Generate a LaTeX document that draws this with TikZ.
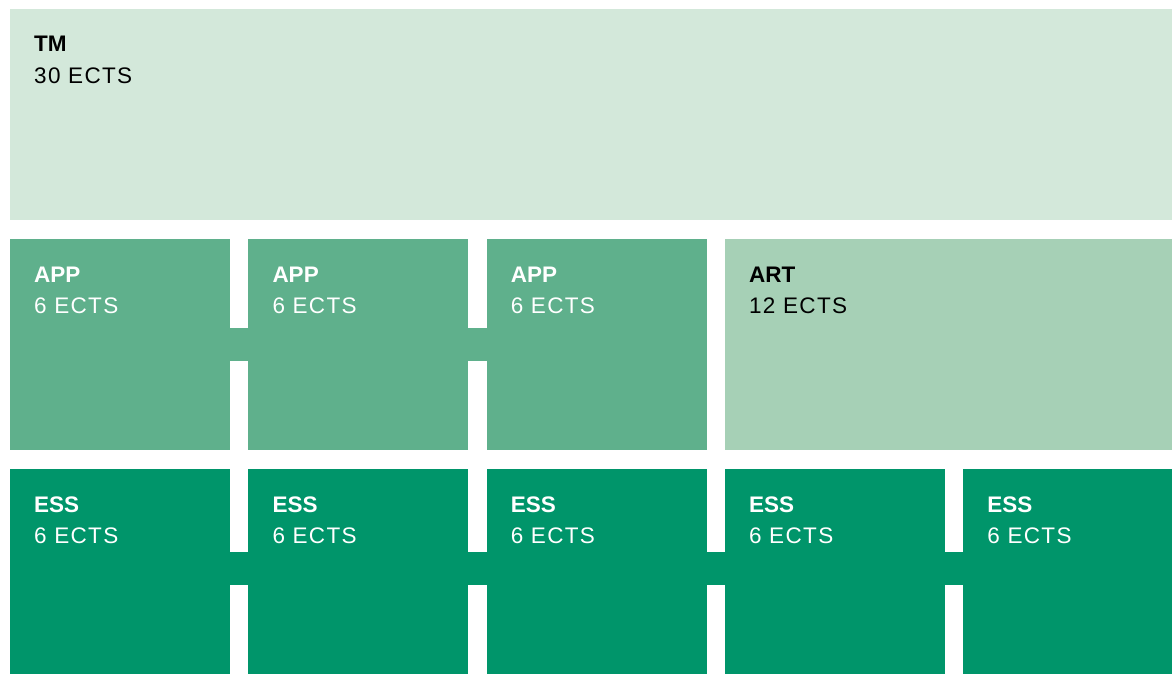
\documentclass[tikz,border=0pt]{standalone}
\usepackage{fontspec}
\setmainfont{Liberation Sans}
\newfontfamily\boxfont[LetterSpace=6]{Liberation Sans}
\usetikzlibrary{positioning}
\definecolor{tmgreen}{HTML}{D3E8DA}
\definecolor{appgreen}{HTML}{5FB08C}
\definecolor{artgreen}{HTML}{A6D0B6}
\definecolor{essgreen}{HTML}{00956A}
\tikzset{
 box/.style={inner sep=0pt, outer sep=0pt, minimum width=220pt, minimum height=211pt, anchor=north west},
 boxtitle/.style={anchor=base west, inner sep=0pt, font=\fontsize{22.5}{27}\selectfont\bfseries, xshift=24pt, yshift=-43pt},
 ects/.style={anchor=base west, inner sep=0pt, font=\boxfont\fontsize{22.5}{27}\selectfont, xshift=24pt, yshift=-74.3pt},
 bar/.style={line width=33pt}
}
\begin{document}
\begin{tikzpicture}[x=1pt,y=1pt, node distance=18.3pt]
 \useasboundingbox (0,0) rectangle (1172,-674);
 \node[box, fill=tmgreen, minimum width=1162pt, label={[boxtitle]north west:TM}, label={[ects]north west:30 ECTS}] (tm) at (10,-9) {};
 % second row
 \node[box, fill=appgreen, below right=19pt and 0pt of tm.south west, label={[boxtitle,white]north west:APP}, label={[ects,white]north west:6 ECTS}] (app1) {};
 \node[box, fill=appgreen, right=of app1, label={[boxtitle,white]north west:APP}, label={[ects,white]north west:6 ECTS}] (app2) {};
 \node[box, fill=appgreen, right=of app2, label={[boxtitle,white]north west:APP}, label={[ects,white]north west:6 ECTS}] (app3) {};
 \node[box, fill=artgreen, minimum width=447pt, right=of app3, label={[boxtitle]north west:ART}, label={[ects]north west:12 ECTS}] (art) {};
 \draw[bar, appgreen] (app1.east) -- (app2.west);
 \draw[bar, appgreen] (app2.east) -- (app3.west);
 % third row
 \node[box, fill=essgreen, minimum height=205pt, below right=19pt and 0pt of app1.south west, label={[boxtitle,white]north west:ESS}, label={[ects,white]north west:6 ECTS}] (ess1) {};
 \node[box, fill=essgreen, minimum height=205pt, right=of ess1, label={[boxtitle,white]north west:ESS}, label={[ects,white]north west:6 ECTS}] (ess2) {};
 \node[box, fill=essgreen, minimum height=205pt, right=of ess2, label={[boxtitle,white]north west:ESS}, label={[ects,white]north west:6 ECTS}] (ess3) {};
 \node[box, fill=essgreen, minimum height=205pt, right=of ess3, label={[boxtitle,white]north west:ESS}, label={[ects,white]north west:6 ECTS}] (ess4) {};
 \node[box, fill=essgreen, minimum height=205pt, minimum width=209pt, right=of ess4, label={[boxtitle,white]north west:ESS}, label={[ects,white]north west:6 ECTS}] (ess5) {};
 \draw[bar, essgreen] ([yshift=3pt]ess1.east) -- ([yshift=3pt]ess2.west);
 \draw[bar, essgreen] ([yshift=3pt]ess2.east) -- ([yshift=3pt]ess3.west);
 \draw[bar, essgreen] ([yshift=3pt]ess3.east) -- ([yshift=3pt]ess4.west);
 \draw[bar, essgreen] ([yshift=3pt]ess4.east) -- ([yshift=3pt]ess5.west);
\end{tikzpicture}
\end{document}
